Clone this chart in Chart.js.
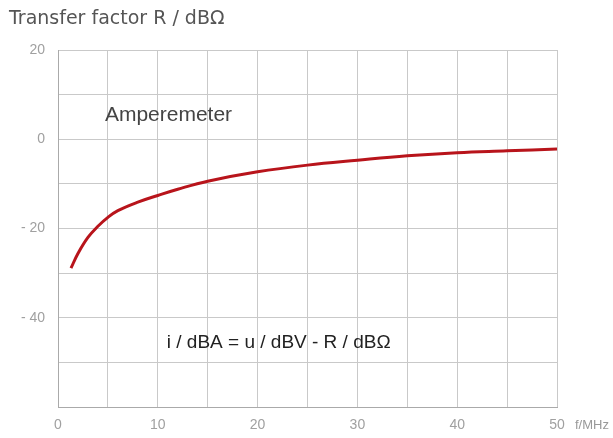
<!DOCTYPE html>
<html>
<head>
<meta charset="utf-8">
<script src="https://cdn.jsdelivr.net/npm/chart.js@4.4.0/dist/chart.umd.min.js"></script>
<style>
  html, body { margin: 0; padding: 0; background: #fff; }
  #wrap { width: 613px; height: 438px; }
</style>
</head>
<body>
<div id="wrap"><canvas id="chart" width="613" height="438"></canvas></div>
<script>
// frequency in MHz, transfer factor in dB-ohm
const freqMHz = [1.3, 2, 3, 4, 5, 6, 8, 10, 12, 15, 20, 25, 30, 35, 40, 45, 50];
const transferR = [-28.9, -25.6, -22.0, -19.5, -17.5, -16.0, -14.1, -12.6, -11.2, -9.4, -7.3, -5.8, -4.7, -3.7, -3.0, -2.6, -2.2];

const titleText = 'Transfer factor R / dB\u03a9';
const xUnit = 'f/MHz';
const noteTop = 'Amperemeter';
const noteFormula = 'i / dBA = u / dBV - R / dB\u03a9';

const ctx = document.getElementById('chart');

const textPlugin = {
  id: 'texts',
  afterDraw(chart) {
    const c = chart.ctx;
    const xs = chart.scales.x;
    const ys = chart.scales.y;
    const area = chart.chartArea;
    c.save();
    c.textBaseline = 'middle';
    c.textAlign = 'left';

    c.fillStyle = '#555';
    c.font = '19px "DejaVu Sans", sans-serif';
    c.fillText(titleText, 9, 19);

    c.fillStyle = '#999';
    c.font = '13px "Liberation Sans", Arial, sans-serif';
    c.fillText(xUnit, area.right + 18, area.bottom + 18);

    c.fillStyle = '#444';
    c.font = '21px "Liberation Sans", Arial, sans-serif';
    c.fillText(noteTop, xs.getPixelForValue(4.7), ys.getPixelForValue(5.4));

    c.fillStyle = '#222';
    c.font = '19px "Liberation Sans", Arial, sans-serif';
    c.fillText(noteFormula, xs.getPixelForValue(10.9), ys.getPixelForValue(-45.5));
    c.restore();
  }
};

new Chart(ctx, {
  type: 'line',
  data: {
    datasets: [{
      data: freqMHz.map((f, i) => ({ x: f, y: transferR[i] })),
      borderColor: '#b8141b',
      borderWidth: 3,
      pointRadius: 0,
      tension: 0.4,
      fill: false
    }]
  },
  options: {
    responsive: false,
    animation: false,
    layout: { padding: { top: 50, right: 56, left: 0, bottom: 0 } },
    plugins: { legend: { display: false }, tooltip: { enabled: false } },
    scales: {
      x: {
        type: 'linear',
        min: 0,
        max: 50,
        afterFit: (s) => { s.height = 31; },
        grid: { color: '#c9c9c9', lineWidth: 1, drawTicks: false },
        border: { color: '#aaa', width: 1 },
        ticks: {
          stepSize: 5,
          padding: 10,
          color: '#a0a0a0',
          font: { size: 14, family: '"Liberation Sans", Arial, sans-serif' },
          callback: (v) => (v % 10 === 0 ? String(v) : '')
        }
      },
      y: {
        min: -60,
        max: 20,
        afterFit: (s) => { s.width = 58; },
        grid: { color: '#c9c9c9', lineWidth: 1, drawTicks: false },
        border: { color: '#aaa', width: 1 },
        ticks: {
          stepSize: 10,
          padding: 13,
          color: '#a0a0a0',
          font: { size: 14, family: '"Liberation Sans", Arial, sans-serif' },
          callback: (v) => (v % 20 === 0 && v > -60 ? (v < 0 ? '- ' + Math.abs(v) : String(v)) : '')
        }
      }
    }
  },
  plugins: [textPlugin]
});
</script>
</body>
</html>
